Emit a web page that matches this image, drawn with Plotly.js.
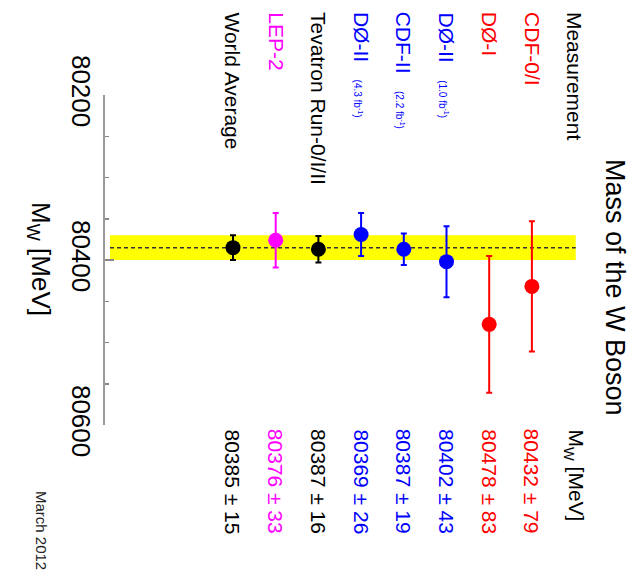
<!DOCTYPE html>
<html>
<head>
<meta charset="utf-8">
<script src="https://cdn.plot.ly/plotly-3.0.1.min.js"></script>
<style>html,body{margin:0;padding:0;background:#fff;}#chart{width:632px;height:577px;}</style>
</head>
<body>
<div id="chart"></div>
<script>
// Rows ordered from the axis outward (World Average nearest the axis)
var labels = ["World Average", "LEP-2", "Tevatron Run-0/I/II", "DØ-II", "CDF-II", "DØ-II", "DØ-I", "CDF-0/I"];
var lumiNotes = ["", "", "", "(4.3 fb<sup>-1</sup>)", "(2.2 fb<sup>-1</sup>)", "(1.0 fb<sup>-1</sup>)", "", ""];
var massValues = [80385, 80376, 80387, 80369, 80387, 80402, 80478, 80432];
var massErrors = [15, 33, 16, 26, 19, 43, 83, 79];
var rowColors = ["#000000", "#ff00ff", "#000000", "#0000ff", "#0000ff", "#0000ff", "#ff0000", "#ff0000"];
var axisTicks = [80200, 80400, 80600];
var headerLeft = "Measurement";
var headerRight = "M<sub>W</sub> [MeV]";
var chartTitle = "Mass of the W Boson";
var axisTitle = "M<sub>W</sub> [MeV]";
var dateNote = "March 2012";

var FONT = "Liberation Sans, Arial, Helvetica, sans-serif";
var rowPos = labels.map(function(_, i){ return i + 1; });

var traces = [];
for (var i = 0; i < labels.length; i++) {
  traces.push({
    type: "scatter", mode: "markers",
    x: [rowPos[i]], y: [massValues[i]],
    marker: {color: rowColors[i], size: 15},
    error_y: {type: "data", array: [massErrors[i]], color: rowColors[i], thickness: 2, width: 3},
    showlegend: false, hoverinfo: "skip", cliponaxis: false
  });
}

var wa = massValues[0], waErr = massErrors[0];
var annotations = [];
for (var j = 0; j < labels.length; j++) {
  var t = labels[j];
  if (lumiNotes[j]) t += "   <span style='font-size:10px'>" + lumiNotes[j] + "</span>";
  annotations.push({xref: "x", yref: "paper", x: rowPos[j], y: 1.2576, text: t, textangle: 90,
    showarrow: false, xanchor: "center", yanchor: "top", font: {family: FONT, size: 21, color: rowColors[j]}});
  annotations.push({xref: "x", yref: "paper", x: rowPos[j], y: -0.006,
    text: massValues[j] + " ± " + massErrors[j], textangle: 90,
    showarrow: false, xanchor: "center", yanchor: "top", font: {family: FONT, size: 21, color: rowColors[j]}});
}
var hdr = labels.length + 1;
annotations.push({xref: "x", yref: "paper", x: hdr, y: 1.2576, text: headerLeft, textangle: 90,
  showarrow: false, xanchor: "center", yanchor: "top", font: {family: FONT, size: 21, color: "#000"}});
annotations.push({xref: "x", yref: "paper", x: hdr, y: -0.006, text: headerRight, textangle: 90,
  showarrow: false, xanchor: "center", yanchor: "top", font: {family: FONT, size: 21, color: "#000"}});
annotations.push({xref: "paper", yref: "paper", x: 1.0303, y: 0.4152, text: chartTitle, textangle: 90,
  showarrow: false, xanchor: "center", yanchor: "middle", font: {family: FONT, size: 27, color: "#000"}});
annotations.push({xref: "paper", yref: "paper", x: -0.1313, y: 0.503, text: axisTitle, textangle: 90,
  showarrow: false, xanchor: "center", yanchor: "middle", font: {family: FONT, size: 26, color: "#000"}});
annotations.push({xref: "paper", yref: "paper", x: -0.1293, y: -0.3212, text: dateNote, textangle: 90,
  showarrow: false, xanchor: "center", yanchor: "middle", font: {family: FONT, size: 15, color: "#222"}});

var layout = {
  width: 632, height: 577,
  margin: {l: 105, r: 32, t: 95, b: 152},
  paper_bgcolor: "#fff", plot_bgcolor: "#fff",
  showlegend: false,
  xaxis: {range: [-1.9977, 9.595], visible: false, fixedrange: true},
  yaxis: {
    range: [80600, 80200], tickmode: "array", tickvals: axisTicks, ticktext: axisTicks.map(String),
    tickangle: 90, ticks: "inside", ticklen: 9, tickwidth: 1.5, tickcolor: "#888",
    minor: {dtick: 50, ticks: "inside", ticklen: 4, tickwidth: 1.5, tickcolor: "#888", showgrid: false},
    showline: true, linecolor: "#999", linewidth: 2, showgrid: false, zeroline: false,
    tickfont: {family: FONT, size: 26, color: "#000"}, ticklabelstandoff: 0
  },
  shapes: [
    {type: "rect", xref: "paper", yref: "y", x0: 0.0101, x1: 0.951, y0: wa - waErr, y1: wa + waErr,
     fillcolor: "#ffff00", line: {width: 0}, layer: "below"},
    {type: "line", xref: "paper", yref: "y", x0: 0.0101, x1: 0.951, y0: wa, y1: wa,
     line: {color: "#333", width: 1.5, dash: "4px,3px"}, layer: "below"}
  ],
  annotations: annotations
};

Plotly.newPlot("chart", traces, layout, {staticPlot: true, displayModeBar: false});
</script>
</body>
</html>
